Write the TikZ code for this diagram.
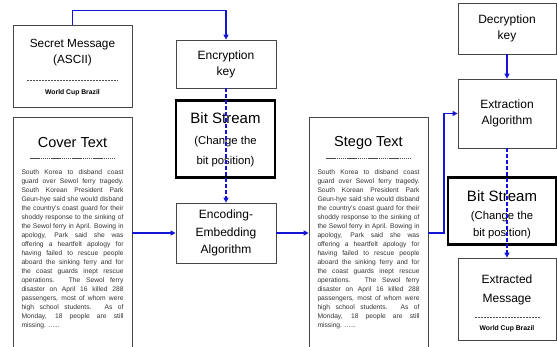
\documentclass[tikz,border=0pt]{standalone}
\usepackage{fontspec}
\setmainfont{Liberation Sans}
\usetikzlibrary{arrows.meta}
\definecolor{flowblue}{RGB}{20,20,215}
\definecolor{boxline}{RGB}{70,70,70}
\tikzset{
  box/.style={draw=boxline,line width=0.8pt,fill=white,inner sep=0pt,align=center},
  thickbox/.style={draw=black,line width=2.6pt,fill=white,inner sep=0pt,align=center},
  lbl/.style={inner sep=0pt,align=center,font=\fontsize{12}{16}\selectfont},
  big/.style={inner sep=0pt,align=center,font=\fontsize{14.5}{18}\selectfont},
  small/.style={inner sep=0pt,align=center,font=\fontsize{11.3}{20}\selectfont},
  wcb/.style={inner sep=0pt,font=\bfseries\fontsize{6.8}{8}\selectfont},
  para/.style={inner sep=0pt,text width=102pt,align=justify,font=\fontsize{6.7}{9}\selectfont,text=black!80},
  sep/.style={draw=black!70,line width=0.5pt,dash pattern=on 2pt off 1pt},
  flow/.style={draw=flowblue,line width=1.3pt,-{Triangle[length=5pt,width=5pt]}},
  dflow/.style={flow,dash pattern=on 4pt off 2pt}
}
\newcommand{\storytext}{South Korea to disband coast\linebreak guard over Sewol ferry tragedy.\linebreak South Korean President Park\linebreak Geun-hye said she would disband\linebreak the country's coast guard for their\linebreak shoddy response to the sinking of\linebreak the Sewol ferry in April. Bowing in\linebreak apology, Park said she was\linebreak offering a heartfelt apology for\linebreak having failed to rescue people\linebreak aboard the sinking ferry and for\linebreak the coast guards inept rescue\linebreak operations. The Sewol ferry\linebreak disaster on April 16 killed 288\linebreak passengers, most of whom were\linebreak high school students. As of\linebreak Monday, 18 people are still\linebreak missing. ......}
\begin{document}
\begin{tikzpicture}[x=1pt,y=-1pt]
\clip (0,0) rectangle (557,346);
\fill[white] (0,0) rectangle (557,346);

% Secret message
\node[box,minimum width=119pt,minimum height=82pt] (secret) at (72.5,66) {};
\node[lbl,font=\fontsize{11.8}{16}\selectfont] (secretlbl) at (72.5,53) {Secret Message\\(ASCII)};
\draw[sep] (27,80) -- (118,80);
\node[wcb] (secretwcb) at (72.5,93) {World Cup Brazil};

% Cover text
\node[box,minimum width=119pt,minimum height=243pt] (cover) at (72.5,238.5) {};
\node[big] (covertitle) at (72.5,143) {Cover Text};
\draw[sep,line width=0.6pt,dash pattern=on 1.5pt off 0.6pt] (30,158) -- (115,158);
\node[para,anchor=north] (coverpara) at (72.5,169.5) {\storytext};

% Encryption key
\node[box,lbl,minimum width=100pt,minimum height=48pt] (enckey) at (226,64) {Encryption\\key};

% Bit stream (left)
\node[thickbox,minimum width=99pt,minimum height=77pt] (bitl) at (225.5,139) {};
\node[big,font=\fontsize{15}{18}\selectfont] (bitltitle) at (225.5,118) {Bit Stream};
\node[small] (bitlsub) at (225.5,152) {(Change the\\bit position)};

% Encoding
\node[box,lbl,font=\fontsize{12}{17.5}\selectfont,minimum width=100pt,minimum height=60pt] (encoding) at (226,233) {Encoding-\\Embedding\\Algorithm};

% Stego text
\node[box,minimum width=119pt,minimum height=243pt] (stego) at (368.5,238.5) {};
\node[big] (stegotitle) at (368.5,143) {Stego Text};
\draw[sep,line width=0.6pt,dash pattern=on 1.5pt off 0.6pt] (326,158) -- (411,158);
\node[para,anchor=north] (stegopara) at (368.5,169.5) {\storytext};

% Decryption key
\node[box,lbl,minimum width=98pt,minimum height=51pt] (deckey) at (507,28.5) {Decryption\\key};

% Extraction
\node[box,lbl,minimum width=98pt,minimum height=69pt] (extraction) at (507,113.5) {Extraction\\Algorithm};

% Bit stream (right)
\node[thickbox,minimum width=108pt,minimum height=67pt] (bitr) at (502,211) {};
\node[big,font=\fontsize{15}{18}\selectfont] (bitrtitle) at (502,196) {Bit Stream};
\node[small,font=\fontsize{11.3}{17}\selectfont] (bitrsub) at (502,225) {(Change the\\bit position)};

% Extracted message
\node[box,minimum width=98pt,minimum height=82pt] (extracted) at (507,299) {};
\node[lbl,font=\fontsize{12}{19}\selectfont] (extractedlbl) at (507,290) {Extracted\\Message};
\draw[sep] (475,317) -- (541,317);
\node[wcb] (extractedwcb) at (507,329) {World Cup Brazil};

% Connectors
\draw[flow] (secret.north) -- ++(0,-14) -| (enckey.north);
\draw[dflow] (enckey.south) -- (encoding.north);
\draw[flow] (cover.east |- encoding.west) -- (encoding.west);
\draw[flow] (encoding.east) -- (stego.west |- encoding.east);
\coordinate (turn) at (444,233);
\draw[flow] (stego.east |- turn) -- (turn) |- (extraction.west);
\draw[flow] (deckey.south) -- (extraction.north);
\draw[dflow] (extraction.south) -- (extracted.north);
\end{tikzpicture}
\end{document}
